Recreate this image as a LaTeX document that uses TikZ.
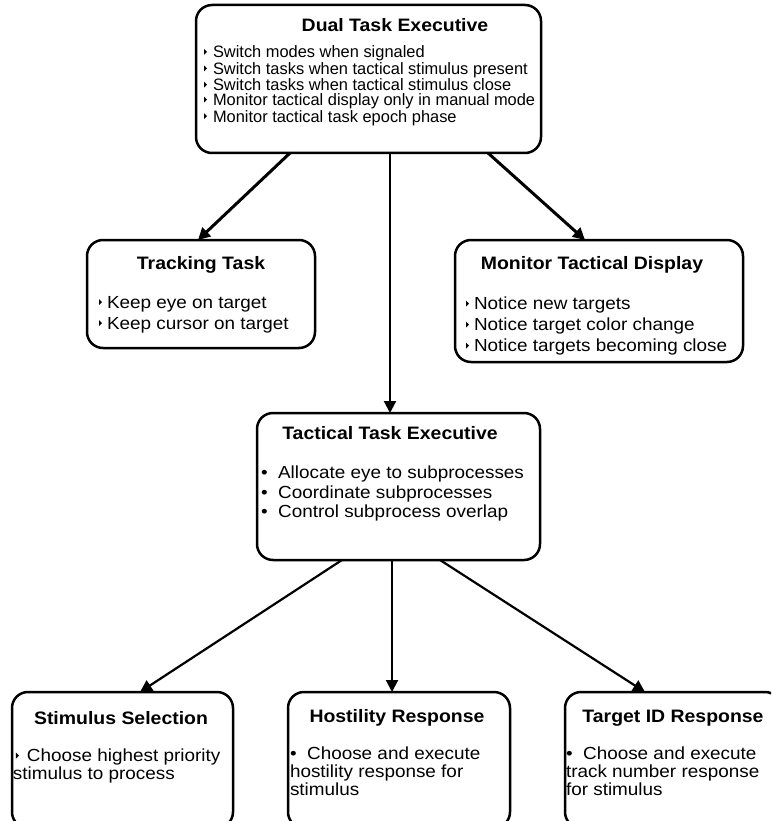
\documentclass[tikz,border=0pt]{standalone}
\usepackage{fontspec}
\setmainfont{Liberation Sans}
\newfontfamily\boxfont[FakeStretch=1.08]{Liberation Sans}
\newfontfamily\topfont[FakeStretch=0.995]{Liberation Sans}
\usetikzlibrary{arrows.meta,positioning}
% small wedge bullet, optional gap before the text
\newcommand{\tbul}[1][6pt]{\raisebox{3pt}{\tikz\fill (0,0) -- (0,6pt) -- (3pt,3pt) -- cycle;}\hspace{#1}}
% round bullet
\newcommand{\rbul}{•\hspace{0.6em}}

\begin{document}
\begin{tikzpicture}[% pixel grid, y running down
			x=1pt,y=-1pt,
			every node/.style={
				inner sep=0pt,		% text sits right at the given point
				outer sep=0pt
			},
			taskbox/.style={draw,line width=2.5pt,rounded corners=16pt,anchor=north west},
			boxtitle/.style={font=\boxfont\fontsize{18}{20}\selectfont\bfseries},
			boxlist/.style={align=left,anchor=north west},
			every edge/.style={draw,-{Triangle[length=12pt,width=12pt]}}
		]
		\useasboundingbox (0,0) rectangle (771,821);
		\clip (0,0) rectangle (771,821);
		% the boxes
		\node[taskbox,minimum width=345pt,minimum height=148pt](dte) at (196,5) {};
		\node[taskbox,minimum width=228pt,minimum height=108pt](track) at (87,240) {};
		\node[taskbox,minimum width=288pt,minimum height=122pt](mtd) at (455,240) {};
		\node[taskbox,minimum width=283pt,minimum height=147pt](tte) at (257,413) {};
		\node[taskbox,minimum width=221pt,minimum height=136pt](stim) at (12,692) {};
		\node[taskbox,minimum width=222pt,minimum height=136pt](host) at (288,692) {};
		\node[taskbox,minimum width=216pt,minimum height=136pt](tid) at (565,692) {};
		% titles
		\node[boxtitle](dteT) at (395,25) {Dual Task Executive};
		\node[boxtitle](trackT) at (201,265) {Tracking Task};
		\node[boxtitle](mtdT) at (592,265) {Monitor Tactical Display};
		\node[boxtitle](tteT) at (390,433) {Tactical Task Executive};
		\node[boxtitle](stimT) at (121,718) {Stimulus Selection};
		\node[boxtitle](hostT) at (397,718) {Hostility Response};
		\node[boxtitle](tidT) at (673,718) {Target ID Response};
		% bullet lists
		\node[boxlist,font=\topfont\fontsize{16.5}{15}\selectfont](dteL) at (204,46) {\tbul Switch modes when signaled\\
			\tbul Switch tasks when tactical stimulus present\\
			\tbul Switch tasks when tactical stimulus close\\
			\tbul Monitor tactical display only in manual mode\\
			\tbul Monitor tactical task epoch phase};
		\node[boxlist,font=\boxfont\fontsize{17.5}{21}\selectfont](trackL) at (99,296) {\tbul[5pt]Keep eye on target\\
			\tbul[5pt]Keep cursor on target};
		\node[boxlist,font=\boxfont\fontsize{17.5}{21}\selectfont](mtdL) at (466,297) {\tbul[5pt]Notice new targets\\
			\tbul[5pt]Notice target color change\\
			\tbul[5pt]Notice targets becoming close};
		\node[boxlist,font=\boxfont\fontsize{17.5}{19.5}\selectfont](tteL) at (261,466) {\rbul Allocate eye to subprocesses\\
			\rbul Coordinate subprocesses\\
			\rbul Control subprocess overlap};
		\node[boxlist,font=\boxfont\fontsize{17.5}{18}\selectfont](stimL) at (16,749) {\tbul[8pt]Choose highest priority\\
			\hspace{-3pt}stimulus to process};
		\node[boxlist,font=\boxfont\fontsize{17.5}{18}\selectfont](hostL) at (290,747) {\rbul Choose and execute\\
			hostility response for\\
			stimulus};
		\node[boxlist,font=\boxfont\fontsize{17.5}{18}\selectfont](tidL) at (566,747) {\rbul Choose and execute\\
			track number response\\
			for stimulus};
		% connectors
		\path
		([xshift=94pt]dte.south west) edge [line width=3pt] ([xshift=111pt]track.north west)
		([xshift=292pt]dte.south west) edge [line width=3pt] ([xshift=130pt]mtd.north west)
		([xshift=194pt]dte.south west) edge [line width=2.2pt] ([xshift=133pt]tte.north west)
		([xshift=85pt]tte.south west) edge [line width=2.2pt] ([xshift=128pt]stim.north west)
		([xshift=135pt]tte.south west) edge [line width=2pt] ([xshift=104pt]host.north west)
		([xshift=183pt]tte.south west) edge [line width=2.2pt] ([xshift=80pt]tid.north west)
		;
	\end{tikzpicture}
\end{document}
